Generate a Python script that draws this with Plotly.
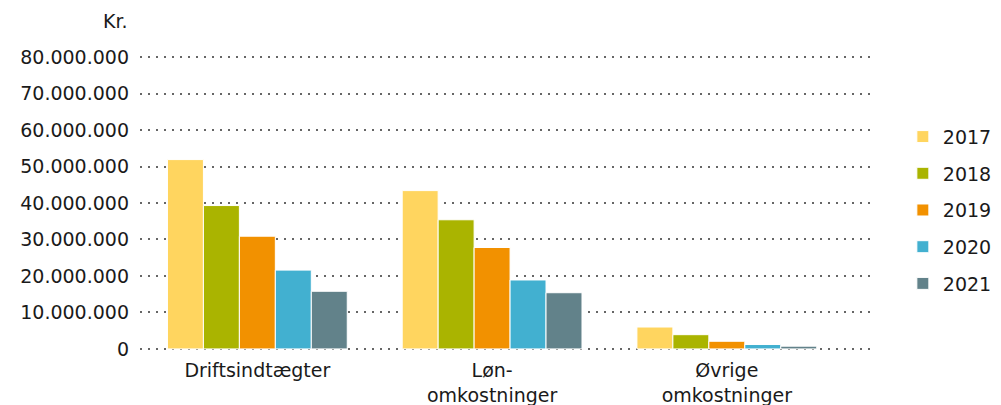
import plotly.graph_objects as go

categories = ["Driftsindtægter", "Løn-<br>omkostninger", "Øvrige<br>omkostninger"]
years = ["2017", "2018", "2019", "2020", "2021"]
values = {
    "2017": [51900000, 43400000, 6000000],
    "2018": [39300000, 35400000, 3900000],
    "2019": [30900000, 27800000, 2100000],
    "2020": [21600000, 18900000, 1200000],
    "2021": [15800000, 15400000, 750000],
}
colors = ["#FFD55F", "#AAB400", "#F29100", "#42B0D0", "#62828A"]
tick_vals = [0, 10000000, 20000000, 30000000, 40000000, 50000000, 60000000, 70000000, 80000000]

fig = go.Figure()
for y, c in zip(years, colors):
    fig.add_trace(go.Bar(
        name=y, x=categories, y=values[y],
        marker=dict(color=c, line=dict(color="white", width=1)),
        legendgroup=y,
    ))

font_family = "DejaVu Sans"
fs = 19
# page body has an 8px default margin, so the figure is sized to fit the window
fig.update_layout(
    width=993, height=397,
    margin=dict(l=132, r=131, t=48, b=55, autoexpand=False),
    paper_bgcolor="white", plot_bgcolor="white",
    barmode="group", bargap=0.234, bargroupgap=0,
    separators=",.",
    font=dict(family=font_family, size=fs, color="#1a1a1a"),
    showlegend=True,
    legend=dict(
        x=1.045, y=0.79, xanchor="left", yanchor="top",
        traceorder="grouped", tracegroupgap=9,
        font=dict(size=fs), itemwidth=30,
    ),
    xaxis=dict(
        range=[-0.5, 2.61], showgrid=False, zeroline=False, showline=False,
        ticks="", tickfont=dict(size=fs), automargin=False, ticklabelstandoff=7,
    ),
    yaxis=dict(
        range=[-300000, 80300000], tickvals=tick_vals, tickformat=",d",
        showgrid=True, gridcolor="#666666", gridwidth=2, griddash="2px,6px",
        zeroline=False, showline=False, ticks="", ticklabelstandoff=10,
        automargin=False,
    ),
    annotations=[dict(
        text="Kr.", xref="paper", yref="paper", x=0, y=1, xanchor="right",
        yanchor="bottom", xshift=-10, yshift=22, showarrow=False,
        font=dict(size=fs),
    )],
)
fig.write_html("out.html")
